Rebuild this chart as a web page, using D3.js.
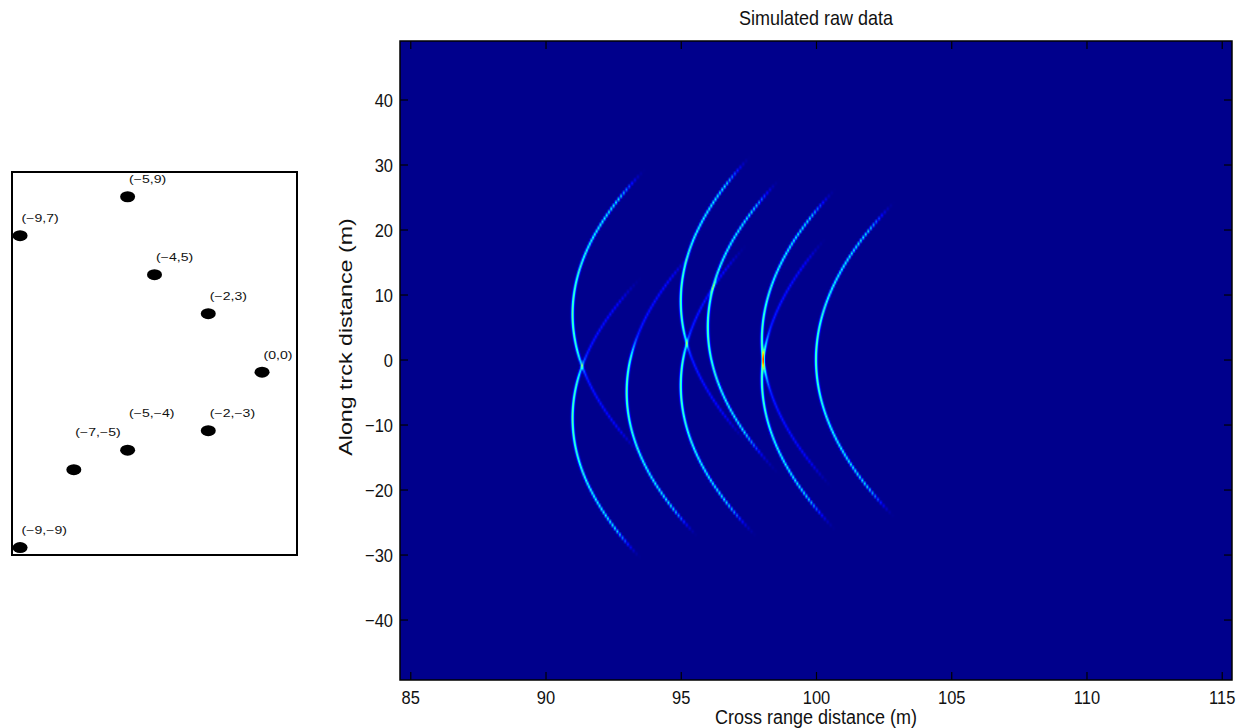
<!DOCTYPE html>
<html>
<head>
<meta charset="utf-8">
<script src="https://cdn.jsdelivr.net/npm/d3@7"></script>
<style>
  body { margin: 0; background: #fff; }
  svg { display: block; }
  text { font-family: "Liberation Sans", Arial, Helvetica, sans-serif; fill: #111; }
</style>
</head>
<body>
<svg id="fig" width="1238" height="728"></svg>
<script>
// ---- scene: point targets (m), relative to the scene centre ----
const targetX = [-5, -9, -4, -2, 0, -2, -5, -7, -9];
const targetY = [9, 7, 5, 3, 0, -3, -4, -5, -9];
// how far above each marker its label sits (scene units)
const labelLift = [0.7, 0.7, 0.7, 0.7, 0.7, 0.7, 1.7, 1.7, 0.7];

// ---- raw-data simulation parameters ----
const sceneRange = 100;                 // stand-off of scene centre from the track (m)
// along-track length (m) of the strong return on the forward / backward arm of each hyperbola
const strongAhead  = [20, 20, 20, 21, 22, 6, 6.5, 7, 8];
const strongBehind = [6.5, 8, 18, 6, 22, 21, 21, 20, 19];
// along-track length (m) of the weak tail of each hyperbola
const weakExtent   = [22, 22, 23, 23, 24, 22, 22, 22, 22];
const crossExtent  = [84.62, 115.38];   // cross range window (m)
const alongExtent  = [-49.3, 49];       // along track window (m)

const xTicks = [85, 90, 95, 100, 105, 110, 115];
const yTicks = [-40, -30, -20, -10, 0, 10, 20, 30, 40];

const svg = d3.select("#fig");

// ================= left panel: target layout =================
const box = { x0: 12, x1: 297, y0: 172, y1: 555 };
const lx = d3.scaleLinear().domain([-9.3, 1.3]).range([box.x0, box.x1]);
const ly = d3.scaleLinear().domain([-9.38, 10.27]).range([box.y1, box.y0]);

svg.append("clipPath").attr("id", "boxclip")
  .append("rect").attr("x", box.x0).attr("y", box.y0)
  .attr("width", box.x1 - box.x0).attr("height", box.y1 - box.y0);

const layout = svg.append("g");
layout.append("rect")
  .attr("x", box.x0).attr("y", box.y0)
  .attr("width", box.x1 - box.x0).attr("height", box.y1 - box.y0)
  .attr("fill", "#fff");

const targets = targetX.map((x, i) => ({ x, y: targetY[i], lift: labelLift[i] }));
const fmt = v => (v < 0 ? "\u2212" + Math.abs(v) : String(v));

layout.append("g").attr("clip-path", "url(#boxclip)")
  .selectAll("ellipse").data(targets).join("ellipse")
  .attr("cx", d => lx(d.x)).attr("cy", d => ly(d.y))
  .attr("rx", 7.5).attr("ry", 5.5).attr("fill", "#000");

layout.selectAll("text.lbl").data(targets).join("text")
  .attr("class", "lbl")
  .attr("transform", d => `translate(${lx(d.x) + 1.5},${ly(d.y + d.lift)}) scale(1.38,1)`)
  .attr("font-size", 10.2)
  .text(d => `(${fmt(d.x)},${fmt(d.y)})`);

layout.append("rect")
  .attr("x", box.x0).attr("y", box.y0)
  .attr("width", box.x1 - box.x0).attr("height", box.y1 - box.y0)
  .attr("fill", "none").attr("stroke", "#000").attr("stroke-width", 2);

// ================= right panel: simulated raw data =================
const plot = { x0: 400, x1: 1232, y0: 41, y1: 680 };
const xs = d3.scaleLinear().domain(crossExtent).range([plot.x0, plot.x1]);
const ys = d3.scaleLinear().domain(alongExtent).range([plot.y1, plot.y0]);

// jet colour map
const jet = d3.scaleLinear()
  .domain([0, 0.125, 0.375, 0.625, 0.875, 1])
  .range(["#000080", "#0000ff", "#00ffff", "#ffff00", "#ff0000", "#800000"])
  .clamp(true);

function smooth(t) { t = Math.max(0, Math.min(1, t)); return t * t * (3 - 2 * t); }

// return strength of target i seen from an along-track offset d
function amplitude(i, d) {
  const a = Math.abs(d);
  const L = d >= 0 ? strongAhead[i] : strongBehind[i];
  const strong = smooth((L + 2.5 - a) / 5) * (1 - 0.3 * Math.min(a, 25) / 25);
  const weak = smooth((weakExtent[i] - a) / 5) * (1 - 0.4 * Math.min(a, 25) / 25);
  return 0.17 * weak + 0.28 * strong;
}

// data matrix: rows = along-track samples, columns = range bins
const nAlong = 200, nRange = 832;
const rowY = d3.range(nAlong).map(j => ys.invert(plot.y0 + (j + 0.5) * (plot.y1 - plot.y0) / nAlong));
const colX = d3.range(nRange).map(k => xs.invert(plot.x0 + (k + 0.5) * (plot.x1 - plot.x0) / nRange));
const sigma = 0.055;
const floor = 0.012;

const canvas = document.createElement("canvas");
canvas.width = nRange; canvas.height = nAlong;
const ctx = canvas.getContext("2d");
const img = ctx.createImageData(nRange, nAlong);
for (let j = 0; j < nAlong; j++) {
  const y = rowY[j];
  const row = new Float32Array(nRange).fill(floor);
  targets.forEach((t, i) => {
    const R0 = sceneRange + t.x;
    const d = y - t.y;
    const A = amplitude(i, d);
    if (A <= 0.001) return;
    const R = Math.sqrt(R0 * R0 + d * d);
    for (let k = 0; k < nRange; k++) {
      const dx = colX[k] - R;
      if (dx > -0.25 && dx < 0.25) row[k] += A * Math.exp(-(dx / sigma) * (dx / sigma));
    }
  });
  for (let k = 0; k < nRange; k++) {
    const c = d3.rgb(jet(row[k]));
    const p = (j * nRange + k) * 4;
    img.data[p] = c.r; img.data[p + 1] = c.g; img.data[p + 2] = c.b; img.data[p + 3] = 255;
  }
}
ctx.putImageData(img, 0, 0);

svg.append("image")
  .attr("x", plot.x0).attr("y", plot.y0)
  .attr("width", plot.x1 - plot.x0).attr("height", plot.y1 - plot.y0)
  .attr("preserveAspectRatio", "none")
  .attr("href", canvas.toDataURL());

// axes with inward ticks on all four sides
const tick = 8;
const gx = svg.append("g").attr("transform", `translate(0,${plot.y1})`)
  .call(d3.axisBottom(xs).tickValues(xTicks).tickSize(-tick).tickPadding(0));
const gxt = svg.append("g").attr("transform", `translate(0,${plot.y0})`)
  .call(d3.axisTop(xs).tickValues(xTicks).tickSize(-tick).tickFormat(""));
const gy = svg.append("g").attr("transform", `translate(${plot.x0},0)`)
  .call(d3.axisLeft(ys).tickValues(yTicks).tickSize(-tick).tickPadding(0));
const gyr = svg.append("g").attr("transform", `translate(${plot.x1},0)`)
  .call(d3.axisRight(ys).tickValues(yTicks).tickSize(-tick).tickFormat(""));

[gx, gxt, gy, gyr].forEach(g => {
  g.select(".domain").remove();
  g.selectAll(".tick line").attr("stroke", "#000").attr("stroke-width", 1.2);
});

gx.selectAll(".tick text")
  .attr("y", null).attr("dy", "0.71em")
  .attr("transform", "translate(0,11) scale(1,1.12)")
  .attr("font-size", 16.5).attr("fill", "#111");
gy.selectAll(".tick text")
  .attr("x", null).attr("dy", "0.36em")
  .attr("transform", "translate(-7,0) scale(1,1.12)")
  .attr("font-size", 16.5).attr("fill", "#111");

svg.append("rect")
  .attr("x", plot.x0).attr("y", plot.y0)
  .attr("width", plot.x1 - plot.x0).attr("height", plot.y1 - plot.y0)
  .attr("fill", "none").attr("stroke", "#000").attr("stroke-width", 1.5);

// titles
svg.append("text")
  .attr("transform", `translate(${(plot.x0 + plot.x1) / 2},25) scale(1,1.15)`)
  .attr("text-anchor", "middle").attr("font-size", 18)
  .text("Simulated raw data");
svg.append("text")
  .attr("transform", `translate(${(plot.x0 + plot.x1) / 2},724) scale(1,1.1)`)
  .attr("text-anchor", "middle").attr("font-size", 18)
  .text("Cross range distance (m)");
svg.append("text")
  .attr("transform", `translate(352,337) rotate(-90) scale(1.27,1)`)
  .attr("text-anchor", "middle").attr("font-size", 18.3)
  .text("Along trck distance (m)");
</script>
</body>
</html>
